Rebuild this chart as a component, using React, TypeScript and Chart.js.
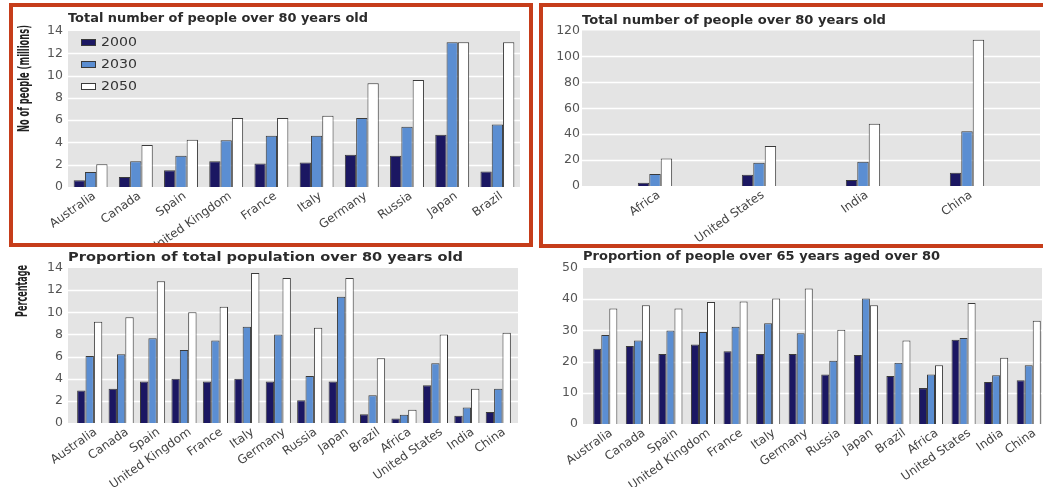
import React, { useEffect, useRef } from "react";
import { Chart, registerables } from "chart.js";

Chart.register(...registerables);

// ---------- data ----------
const YEARS = ["2000", "2030", "2050"];

const COUNTRIES_TOP_LEFT = ["Australia", "Canada", "Spain", "United Kingdom", "France", "Italy", "Germany", "Russia", "Japan", "Brazil"];
const TOTAL_TL_2000 = [0.6, 0.9, 1.5, 2.3, 2.1, 2.2, 2.9, 2.8, 4.7, 1.4];
const TOTAL_TL_2030 = [1.35, 2.3, 2.8, 4.2, 4.6, 4.6, 6.2, 5.4, 13.0, 5.6];
const TOTAL_TL_2050 = [2.05, 3.77, 4.25, 6.2, 6.2, 6.4, 9.3, 9.6, 13.0, 13.0];

const COUNTRIES_TOP_RIGHT = ["Africa", "United States", "India", "China"];
const TOTAL_TR_2000 = [2.6, 8.7, 4.6, 10.3];
const TOTAL_TR_2030 = [9.2, 18.0, 18.7, 42.3];
const TOTAL_TR_2050 = [21.3, 30.8, 48.0, 112.8];

const COUNTRIES_ALL = ["Australia", "Canada", "Spain", "United Kingdom", "France", "Italy", "Germany", "Russia", "Japan", "Brazil", "Africa", "United States", "India", "China"];
const PROP_TOTAL_2000 = [2.94, 3.1, 3.75, 4.0, 3.75, 4.0, 3.75, 2.05, 3.75, 0.8, 0.4, 3.4, 0.65, 1.0];
const PROP_TOTAL_2030 = [6.05, 6.2, 7.65, 6.6, 7.45, 8.7, 8.0, 4.25, 11.4, 2.5, 0.75, 5.4, 1.4, 3.1];
const PROP_TOTAL_2050 = [9.14, 9.55, 12.8, 10.0, 10.5, 13.55, 13.1, 8.6, 13.1, 5.85, 1.2, 8.0, 3.1, 8.15];

const PROP_65_2000 = [24.1, 25.0, 22.4, 25.5, 23.3, 22.4, 22.4, 15.9, 22.1, 15.4, 11.5, 27.0, 13.5, 14.0];
const PROP_65_2030 = [28.5, 26.8, 30.0, 29.5, 31.2, 32.3, 29.1, 20.3, 40.2, 19.6, 15.9, 27.6, 15.6, 18.8];
const PROP_65_2050 = [37.0, 38.1, 37.0, 39.1, 39.3, 40.2, 43.4, 30.2, 38.1, 26.8, 18.8, 38.8, 21.2, 33.1];

const TITLE_TOTAL = "Total number of people over 80 years old";
const TITLE_PROP_TOTAL = "Proportion of total population over 80 years old";
const TITLE_PROP_65 = "Proportion of people over 65 years aged over 80";
const YTITLE_TOTAL = "No of people (millions)";
const YTITLE_PROP = "Percentage";

// ---------- style ----------
const COLORS = ["#1b1762", "#5b8ed2", "#ffffff"];
const BORDER = "#3a3a3a";
const BG_GRAY = "#e4e4e4";
const TICK_COLOR = "#555555";
const TITLE_COLOR = "#2b2b2b";
const RED = "#c63d1a";
const FONT = "'DejaVu Sans', sans-serif";
const CONDENSED = "'DejaVu Sans Condensed', 'DejaVu Sans', sans-serif";

function drawStretched(ctx: any, text: string, x: number, y: number, target: number) {
  const w = ctx.measureText(text).width;
  const sx = target && w ? target / w : 1;
  ctx.save();
  ctx.translate(x, y);
  ctx.scale(sx, 1);
  ctx.fillText(text, 0, 0);
  ctx.restore();
}

const panelPlugin = {
  id: "panel",
  beforeDatasetsDraw(chart: any, _args: any, opts: any) {
    const { ctx, chartArea } = chart;
    const y = chart.scales.y;
    const l = chartArea.left - (opts.extL || 0);
    const r = chartArea.right + (opts.extR || 0);
    ctx.save();
    ctx.fillStyle = BG_GRAY;
    ctx.fillRect(l, chartArea.top, r - l, chartArea.bottom - chartArea.top);
    ctx.strokeStyle = "#ffffff";
    ctx.lineWidth = 1.5;
    y.ticks.forEach((t: any) => {
      const py = Math.round(y.getPixelForValue(t.value)) + 0.5;
      if (t.value === y.min || t.value === y.max) return;
      ctx.beginPath();
      ctx.moveTo(l, py);
      ctx.lineTo(r, py);
      ctx.stroke();
    });
    ctx.restore();
  },
  afterDraw(chart: any, _args: any, opts: any) {
    const { ctx, chartArea } = chart;
    const l = chartArea.left - (opts.extL || 0);
    ctx.save();
    // panel title
    ctx.fillStyle = TITLE_COLOR;
    ctx.font = "bold 12.5px " + FONT;
    ctx.textBaseline = "middle";
    ctx.textAlign = "left";
    drawStretched(ctx, opts.title, l, chartArea.top + opts.titleDy, opts.titleWidth);
    // y axis title (rotated, condensed)
    if (opts.yTitle) {
      ctx.save();
      ctx.font = "bold 15px " + CONDENSED;
      ctx.fillStyle = "#222222";
      ctx.textAlign = "right";
      ctx.textBaseline = "middle";
      const w = ctx.measureText(opts.yTitle).width;
      ctx.translate(opts.yTitleX, chartArea.top + opts.yTitleDy);
      ctx.rotate(-Math.PI / 2);
      ctx.scale(opts.yTitleLen / w, 1);
      ctx.fillText(opts.yTitle, 0, 0);
      ctx.restore();
    }
    // legend inside plot
    if (opts.legend) {
      ctx.font = "13px " + FONT;
      ctx.textAlign = "left";
      ctx.textBaseline = "middle";
      chart.data.datasets.forEach((ds: any, i: number) => {
        const by = chartArea.top + 11.5 + i * 22;
        const bx = chartArea.left + 13;
        ctx.fillStyle = ds.backgroundColor;
        ctx.fillRect(bx, by - 3.5, 15, 7);
        ctx.strokeStyle = BORDER;
        ctx.lineWidth = 1;
        ctx.strokeRect(bx + 0.5, by - 3.5 + 0.5, 14, 6);
        ctx.fillStyle = "#333333";
        drawStretched(ctx, ds.label, bx + 20, by + 0.5, 36);
      });
    }
    ctx.restore();
  },
};

type PanelProps = {
  left: number; top: number; width: number; height: number;
  labels: string[]; series: number[][];
  yMax: number; yStep: number;
  yWidth: number; xHeight: number;
  pad: { top: number; right: number };
  tickPad: number;
  extL: number; extR: number;
  title: string; titleDy: number; titleWidth: number;
  yTitle?: string; yTitleX?: number; yTitleDy?: number; yTitleLen?: number;
  legend?: boolean;
  catPct: number;
  labelOffset: number;
};

function Panel(p: PanelProps) {
  const ref = useRef<HTMLCanvasElement | null>(null);
  useEffect(() => {
    if (!ref.current) return;
    const chart = new Chart(ref.current, {
      type: "bar",
      data: {
        labels: p.labels,
        datasets: p.series.map((s, i) => ({
          label: YEARS[i],
          data: s,
          backgroundColor: COLORS[i],
          borderColor: BORDER,
          borderWidth: 1,
          barPercentage: 1.0,
          categoryPercentage: p.catPct,
        })),
      },
      options: {
        animation: false,
        responsive: false,
        maintainAspectRatio: false,
        devicePixelRatio: 1,
        layout: { padding: { left: 0, right: p.pad.right, top: p.pad.top, bottom: 0 } },
        plugins: {
          legend: { display: false },
          tooltip: { enabled: false },
          title: { display: false },
          panel: {
            extL: p.extL, extR: p.extR,
            title: p.title, titleDy: p.titleDy, titleWidth: p.titleWidth,
            yTitle: p.yTitle, yTitleX: p.yTitleX, yTitleDy: p.yTitleDy, yTitleLen: p.yTitleLen,
            legend: !!p.legend,
          },
        } as any,
        scales: {
          x: {
            type: "category",
            offset: true,
            grid: { display: false, drawTicks: false },
            border: { display: false },
            ticks: {
              autoSkip: false,
              minRotation: 35,
              maxRotation: 35,
              padding: 2,
              labelOffset: p.labelOffset,
              color: "#444444",
              font: { family: FONT, size: 12 },
            },
            afterFit: (s: any) => { s.height = p.xHeight; },
          },
          y: {
            min: 0,
            max: p.yMax,
            grid: { display: false, drawTicks: false },
            border: { display: false },
            ticks: {
              stepSize: p.yStep,
              padding: p.tickPad,
              color: TICK_COLOR,
              font: { family: FONT, size: 12.5 },
            },
            title: { display: false },
            afterFit: (s: any) => { s.width = p.yWidth; },
          },
        },
      } as any,
      plugins: [panelPlugin],
    });
    return () => chart.destroy();
  }, []);
  return (
    <canvas
      ref={ref}
      width={p.width}
      height={p.height}
      style={{ position: "absolute", left: p.left, top: p.top, width: p.width, height: p.height }}
    />
  );
}

function RedBox(b: { left: number; top: number; width: number; height: number }) {
  return (
    <div
      style={{
        position: "absolute", left: b.left, top: b.top, width: b.width, height: b.height,
        border: `4px solid ${RED}`, boxSizing: "border-box", pointerEvents: "none",
      }}
    />
  );
}

export default function App() {
  return (
    <div style={{ position: "fixed", left: 0, top: 0, width: 1043, height: 487, overflow: "hidden", background: "#ffffff" }}>
      <Panel
        left={0} top={0} width={535} height={245}
        labels={COUNTRIES_TOP_LEFT}
        series={[TOTAL_TL_2000, TOTAL_TL_2030, TOTAL_TL_2050]}
        yMax={14} yStep={2} yWidth={68} xHeight={58}
        pad={{ top: 31, right: 15 }} tickPad={5}
        extL={0} extR={0}
        title={TITLE_TOTAL} titleDy={-12} titleWidth={300}
        yTitle={YTITLE_TOTAL} yTitleX={25} yTitleDy={-6} yTitleLen={107}
        legend
        catPct={0.75} labelOffset={4}
      />
      <Panel
        left={537} top={0} width={506} height={245}
        labels={COUNTRIES_TOP_RIGHT}
        series={[TOTAL_TR_2000, TOTAL_TR_2030, TOTAL_TR_2050]}
        yMax={120} yStep={20} yWidth={66} xHeight={59}
        pad={{ top: 30, right: 24 }} tickPad={23}
        extL={21} extR={21}
        title={TITLE_TOTAL} titleDy={-10} titleWidth={304}
        catPct={0.33} labelOffset={4}
      />
      <Panel
        left={0} top={245} width={535} height={242}
        labels={COUNTRIES_ALL}
        series={[PROP_TOTAL_2000, PROP_TOTAL_2030, PROP_TOTAL_2050]}
        yMax={14} yStep={2} yWidth={74} xHeight={64}
        pad={{ top: 23, right: 21 }} tickPad={11}
        extL={6} extR={4}
        title={TITLE_PROP_TOTAL} titleDy={-10} titleWidth={395}
        yTitle={YTITLE_PROP} yTitleX={23} yTitleDy={-3} yTitleLen={52}
        catPct={0.8} labelOffset={6}
      />
      <Panel
        left={535} top={245} width={515} height={242}
        labels={COUNTRIES_ALL}
        series={[PROP_65_2000, PROP_65_2030, PROP_65_2050]}
        yMax={50} yStep={10} yWidth={54} xHeight={63}
        pad={{ top: 23, right: 5 }} tickPad={11}
        extL={6} extR={-3}
        title={TITLE_PROP_65} titleDy={-11.5} titleWidth={357}
        catPct={0.74} labelOffset={6}
      />
      <RedBox left={9} top={3} width={524} height={244} />
      <RedBox left={539} top={3} width={510} height={245} />
    </div>
  );
}
